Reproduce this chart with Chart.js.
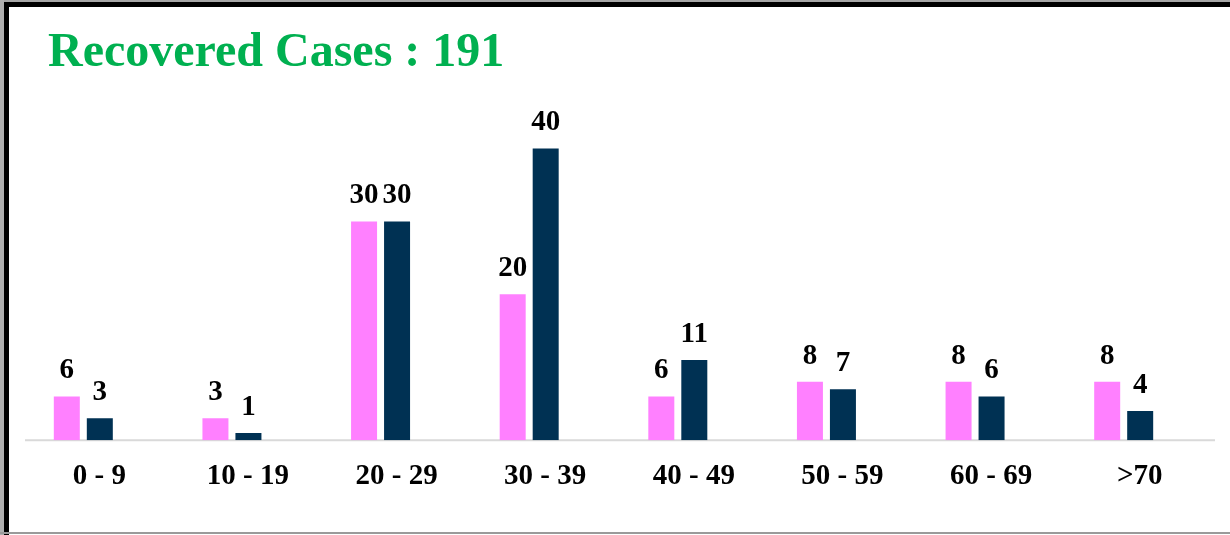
<!DOCTYPE html>
<html>
<head>
<meta charset="utf-8">
<script src="https://cdn.jsdelivr.net/npm/chart.js@4.4.1/dist/chart.umd.min.js"></script>
<style>
  html, body { margin: 0; padding: 0; background: #fff; }
  #frame { position: absolute; left: 0; top: 0; width: 1230px; height: 535px; overflow: hidden; background: #fff; }
  #chartBox { position: absolute; left: 0; top: 0; width: 1230px; height: 535px; }
  #title { position: absolute; left: 48px; top: 26px; margin: 0; font: bold 48px "Liberation Serif", "Times New Roman", serif; line-height: 48px; color: #00B050; white-space: nowrap; }
  .b { position: absolute; }
</style>
</head>
<body>
<div id="frame">
  <div id="chartBox"><canvas id="c"></canvas></div>
  <div id="title">Recovered Cases : 191</div>
  <div class="b" style="left:0;top:0;width:1230px;height:2px;background:#a6a6a6"></div>
  <div class="b" style="left:0;top:2px;width:1230px;height:5px;background:#000"></div>
  <div class="b" style="left:0;top:0;width:4px;height:535px;background:#b0b0b0"></div>
  <div class="b" style="left:4px;top:2px;width:5px;height:533px;background:#000"></div>
  <div class="b" style="left:0;top:532px;width:1230px;height:2px;background:#9a9a9a"></div>
</div>
<script>
const categories = ['0 - 9', '10 - 19', '20 - 29', '30 - 39', '40 - 49', '50 - 59', '60 - 69', '>70'];
const seriesA = [6, 3, 30, 20, 6, 8, 8, 8];
const seriesB = [3, 1, 30, 40, 11, 7, 6, 4];

const FONT = '"Liberation Serif", "Times New Roman", serif';

const valueLabels = {
  id: 'valueLabels',
  afterDatasetsDraw(chart) {
    const ctx = chart.ctx;
    ctx.save();
    ctx.font = 'bold 29px ' + FONT;
    ctx.fillStyle = '#000';
    ctx.textAlign = 'center';
    ctx.textBaseline = 'alphabetic';
    chart.data.datasets.forEach((ds, i) => {
      chart.getDatasetMeta(i).data.forEach((bar, j) => {
        ctx.fillText(String(ds.data[j]), bar.x, bar.y - 18);
      });
    });
    ctx.restore();
  }
};

const baseLine = {
  id: 'baseLine',
  beforeDatasetsDraw(chart) {
    const a = chart.chartArea;
    const ctx = chart.ctx;
    ctx.save();
    ctx.strokeStyle = '#D9D9D9';
    ctx.lineWidth = 2;
    ctx.beginPath();
    ctx.moveTo(a.left + 16, a.bottom);
    ctx.lineTo(a.right + 17, a.bottom);
    ctx.stroke();
    ctx.restore();
  }
};

new Chart(document.getElementById('c'), {
  type: 'bar',
  data: {
    labels: categories,
    datasets: [
      { label: 'Series A', data: seriesA, backgroundColor: '#FF80FF', categoryPercentage: 0.444, barPercentage: 0.788 },
      { label: 'Series B', data: seriesB, backgroundColor: '#003153', categoryPercentage: 0.444, barPercentage: 0.788 }
    ]
  },
  options: {
    responsive: true,
    maintainAspectRatio: false,
    animation: false,
    layout: { padding: { left: 9, right: 32, top: 112, bottom: 22 } },
    plugins: {
      legend: { display: false },
      title: { display: false },
      tooltip: { enabled: false }
    },
    scales: {
      x: {
        grid: { display: false, drawTicks: false },
        border: { display: false },
        ticks: {
          color: '#000',
          font: { family: FONT, size: 29, weight: 'bold' },
          padding: 19,
          labelOffset: 16,
          maxRotation: 0,
          autoSkip: false
        }
      },
      y: {
        display: false,
        min: 0,
        max: 45
      }
    }
  },
  plugins: [baseLine, valueLabels]
});
</script>
</body>
</html>
